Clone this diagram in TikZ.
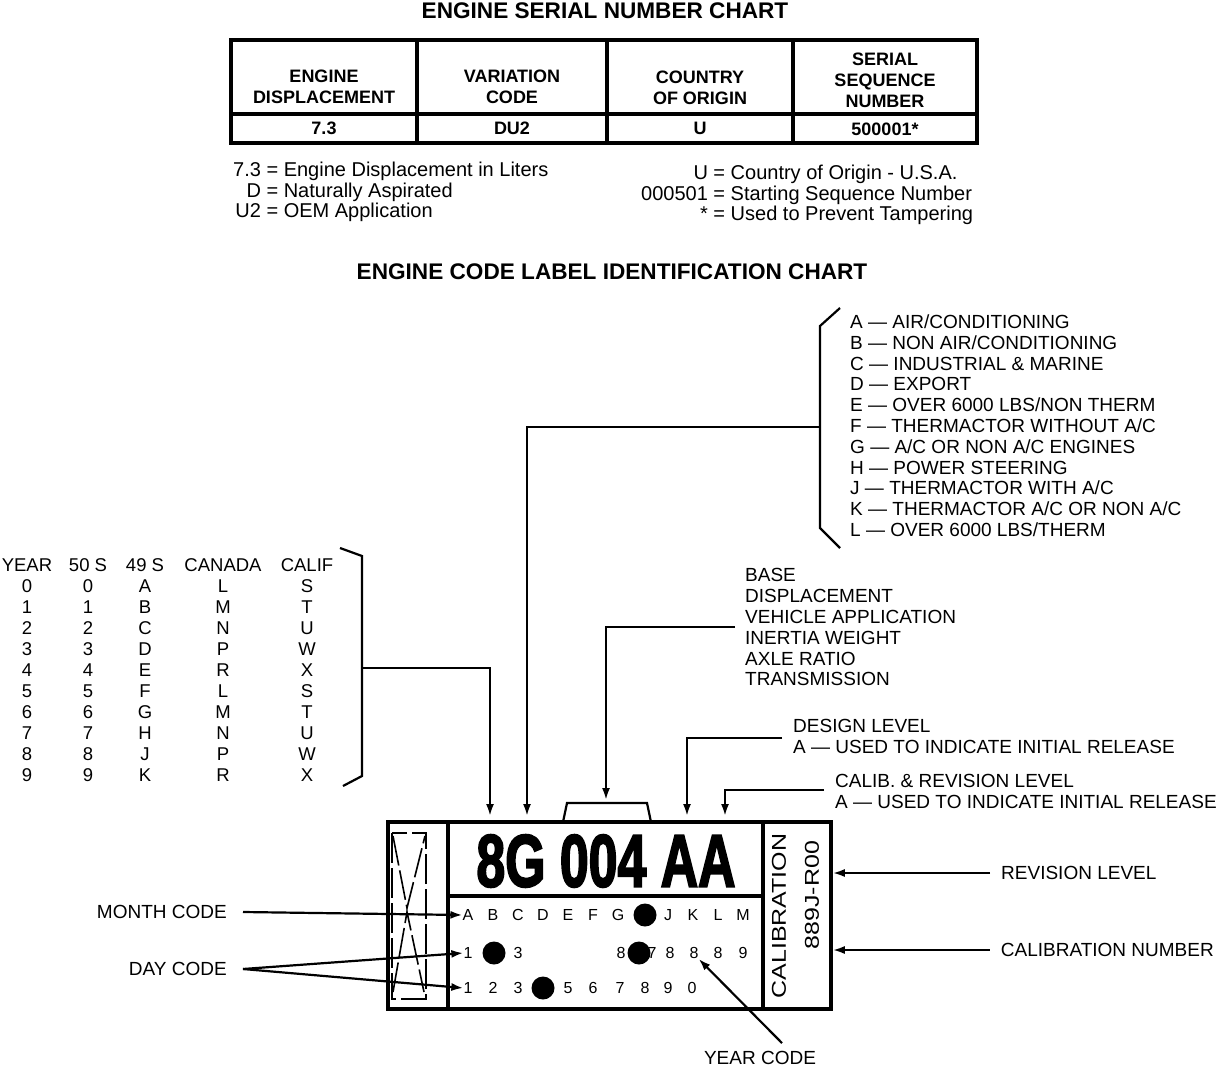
\documentclass[tikz,border=0pt]{standalone}
\usepackage{fontspec}
\setmainfont{Liberation Sans}
\newfontfamily\heavyfont{Liberation Sans}[BoldFeatures={FakeBold=3}]
\usetikzlibrary{arrows.meta, positioning}

\tikzset{
  txt/.style={inner sep=0pt, font=\fontsize{19}{20.8}\selectfont, align=left},
  note/.style={inner sep=0pt, font=\fontsize{20}{20.5}\selectfont},
  ttl/.style={inner sep=0pt, font=\bfseries\fontsize{22.6}{26}\selectfont},
  hdr/.style={inner sep=0pt, font=\bfseries\fontsize{18}{21}\selectfont, align=center},
  colm/.style={inner sep=0pt, anchor=north, font=\fontsize{18.5}{21}\selectfont, align=center},
  code/.style={inner sep=0pt, font=\fontsize{16}{16}\selectfont},
  blob/.style={circle, fill=black, inner sep=0pt, minimum size=23pt},
  boxline/.style={line width=3.5pt},
  leader/.style={line width=2.2pt},
  arr/.style={-{Latex[length=12pt,width=8pt]}, line width=2.2pt},
  seal/.style={line width=1.6pt, dash pattern=on 30pt off 5pt},
}

\begin{document}
\begin{tikzpicture}[x=1pt, y=-1pt]
    \fill[white] (0,0) rectangle (1216,1068);
    \useasboundingbox (0,0) rectangle (1216,1068);

    % Serial number chart
    \node[ttl] (serialTitle) at (605,11) {ENGINE SERIAL NUMBER CHART};

    \draw[boxline] (231,40) rectangle (977,143);
    \draw[boxline] (231,114) -- (977,114);
    \draw[boxline] (417,40) -- (417,143);
    \draw[boxline] (607,40) -- (607,143);
    \draw[boxline] (793,40) -- (793,143);

    \node[hdr] (dispHead) at (324,87) {ENGINE\\DISPLACEMENT};
    \node[hdr] (varHead) at (512,87) {VARIATION\\CODE};
    \node[hdr] (ctryHead) at (700,88) {COUNTRY\\OF ORIGIN};
    \node[hdr] (seqHead) at (885,80) {SERIAL\\SEQUENCE\\NUMBER};
    \node[hdr] (dispVal) at (324,128) {7.3};
    \node[hdr] (varVal) at (512,128) {DU2};
    \node[hdr] (ctryVal) at (700,128) {U};
    \node[hdr] (seqVal) at (885,129) {500001*};

    \node[note, anchor=north west] (noteLeft) at (233,162) {%
        \begin{tabular}{@{}r@{ }l@{}}
        7.3 & = Engine Displacement in Liters\\
        D & = Naturally Aspirated\\
        U2 & = OEM Application
        \end{tabular}};
    \node[note, anchor=north west] (noteRight) at (641,165) {%
        \begin{tabular}{@{}r@{ }l@{}}
        U & = Country of Origin - U.S.A.\\
        000501 & = Starting Sequence Number\\
        \relax{*} & = Used to Prevent Tampering
        \end{tabular}};

    % Code label chart
    \node[ttl] (codeTitle) at (612,272) {ENGINE CODE LABEL IDENTIFICATION CHART};

    \node[txt, anchor=north west] (optList) at (850,314.5) {%
        A — AIR/CONDITIONING\\
        B — NON AIR/CONDITIONING\\
        C — INDUSTRIAL \& MARINE\\
        D — EXPORT\\
        E — OVER 6000 LBS/NON THERM\\
        F — THERMACTOR WITHOUT A/C\\
        G — A/C OR NON A/C ENGINES\\
        H — POWER STEERING\\
        J — THERMACTOR WITH A/C\\
        K — THERMACTOR A/C OR NON A/C\\
        L — OVER 6000 LBS/THERM};
    \draw[leader] (840,308) -- (820,326) -- (820,528) -- (840,548);
    \coordinate (optBrace) at (820,427);

    \node[colm] (yearCol) at (27,558.5) {YEAR\\0\\1\\2\\3\\4\\5\\6\\7\\8\\9};
    \node[colm] (fiftyCol) at (88,558.5) {50 S\\0\\1\\2\\3\\4\\5\\6\\7\\8\\9};
    \node[colm] (fortyCol) at (145,558.5) {49 S\\A\\B\\C\\D\\E\\F\\G\\H\\J\\K};
    \node[colm] (canCol) at (223,558.5) {CANADA\\L\\M\\N\\P\\R\\L\\M\\N\\P\\R};
    \node[colm] (calCol) at (307,558.5) {CALIF\\S\\T\\U\\W\\X\\S\\T\\U\\W\\X};
    \draw[leader] (340,548) -- (362,556) -- (362,776) -- (343,786);
    \coordinate (yrBrace) at (362,668);

    \node[txt, anchor=north west] (baseTxt) at (745,568.5) {BASE\\DISPLACEMENT\\VEHICLE APPLICATION\\INERTIA WEIGHT\\AXLE RATIO\\TRANSMISSION};
    \coordinate (baseLead) at (735,627);

    \node[txt, anchor=north west] (desTxt) at (793,719) {DESIGN LEVEL\\A — USED TO INDICATE INITIAL RELEASE};
    \coordinate (desLead) at (782,738);
    \node[txt, anchor=north west] (calibTxt) at (835,774) {CALIB. \& REVISION LEVEL\\A — USED TO INDICATE INITIAL RELEASE};
    \coordinate (calibLead) at (824,790);

    % The label
    \draw[boxline] (388,822) rectangle (763,1009);
    \draw[boxline] (448,822) -- (448,1009);
    \draw[boxline] (448,896) -- (763,896);
    \node[draw, boxline, inner sep=0pt, minimum width=68pt, minimum height=187pt] (calBox) at (797,915.5) {};

    \draw[seal] (392,833) rectangle (426,999);
    \draw[seal] (393,836) -- (407,908) -- (425,836);
    \draw[seal] (393,992) -- (407,912) -- (424,992);

    \node[inner sep=0pt, font=\heavyfont\bfseries\fontsize{74}{74}\selectfont] (engCode) at (606,861) {\scalebox{0.70}[1]{8G 004 AA}};
    \node[inner sep=0pt, rotate=90, font=\fontsize{20}{20}\selectfont] (calWord) at (779,916) {\scalebox{1.25}[1]{CALIBRATION}};
    \node[inner sep=0pt, rotate=90, font=\fontsize{20}{20}\selectfont] (calNum) at (812,895) {\scalebox{1.25}[1]{889J-R00}};

    \foreach \ch/\px in {A/468,B/493,C/518,D/543,E/568,F/593,G/618,J/668,K/693,L/718,M/743}
        \node[code] (m\ch) at (\px,915) {\ch};
    \foreach \ch/\px/\nm in {1/468/a,3/518/c,8/621/g,7/652/h,8/670/j,8/694/k,8/718/l,9/743/m}
        \node[code] (d\nm) at (\px,953) {\ch};
    \foreach \ch/\px/\nm in {1/468/a,2/493/b,3/518/c,5/568/e,6/593/f,7/620/g,8/645/h,9/668/j,0/692/k}
        \node[code] (t\nm) at (\px,988) {\ch};

    \node[blob] (monthDot) at (645,915) {};
    \node[blob] (dayDotA) at (494,953) {};
    \node[blob] (dayDotB) at (639,953) {};
    \node[blob] (dayDotC) at (543,988) {};

    % Arrow targets on the label
    \coordinate (tgtYear) at (490,816);
    \coordinate (tgtApp) at (527,816);
    \coordinate (tgtDes) at (687,816);
    \coordinate (tgtCalib) at (725,816);
    \coordinate (tgtBase) at (606,800);
    \draw[leader] (563,822) -- (567,803) -- (647,803) -- (651,822);

    % Side labels
    \node[txt, anchor=east] (monthTxt) at (227,912) {MONTH CODE};
    \node[txt, anchor=east] (dayTxt) at (227,969) {DAY CODE};
    \node[txt, anchor=west] (revTxt) at (1001,873) {REVISION LEVEL};
    \node[txt, anchor=east] (calNoTxt) at (1214,950) {CALIBRATION NUMBER};
    \node[txt] (yearTxt) at (760,1058) {YEAR CODE};

    % Arrows
    \draw[arr] (yrBrace) -| (tgtYear);
    \draw[arr] (optBrace) -| (tgtApp);
    \draw[arr] (baseLead) -| (tgtBase);
    \draw[arr] (desLead) -| (tgtDes);
    \draw[arr] (calibLead) -| (tgtCalib);
    \draw[arr] ([xshift=16pt]monthTxt.east) -- (mA.west);
    \draw[arr] ([xshift=16pt]dayTxt.east) -- (da.west);
    \draw[arr] ([xshift=16pt]dayTxt.east) -- (ta.west);
    \draw[arr] ([xshift=-11pt]revTxt.west) -- (revTxt.west -| calBox.east);
    \draw[arr] ([xshift=-11pt]calNoTxt.west) -- (calNoTxt.west -| calBox.east);
    \draw[arr] ([shift={(22,-8)}]yearTxt.north) -- (dk.south east);

\end{tikzpicture}
\end{document}
